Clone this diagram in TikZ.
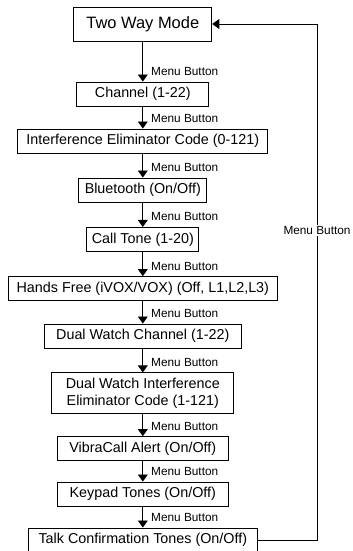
\documentclass[tikz,border=0pt]{standalone}
\usepackage{fontspec}
\setmainfont{Liberation Sans}
\usetikzlibrary{arrows.meta}

\begin{document}
\begin{tikzpicture}[
    menubox/.style={draw, line width=0.6pt, minimum height=0.6cm, inner sep=0pt, align=center, font=\fontsize{10.2}{12.4}\selectfont},
    flow/.style={-{Triangle[length=5pt,width=7pt]}, line width=0.6pt},
    btnlabel/.style={font=\fontsize{8.4}{10}\selectfont, inner sep=0pt, anchor=base west, xshift=0.2cm, yshift=0.15cm}
]
    \useasboundingbox (0,0) rectangle (8.8,13.775);

    % Menu boxes, top to bottom
    \node[menubox, minimum width=3.45cm, minimum height=0.85cm, font=\fontsize{11.7}{14}\selectfont] (twoway) at (3.57,13.175) {Two Way Mode};
    \node[menubox, minimum width=3.3cm] (channel) at (3.57,11.425) {Channel (1-22)};
    \node[menubox, minimum width=6.25cm] (iecode) at (3.57,10.25) {Interference Eliminator Code (0-121)};
    \node[menubox, minimum width=3.2cm] (bluetooth) at (3.57,9.025) {Bluetooth (On/Off)};
    \node[menubox, minimum width=2.8cm] (calltone) at (3.57,7.79) {Call Tone (1-20)};
    \node[menubox, minimum width=6.725cm] (handsfree) at (3.57,6.56) {Hands Free (iVOX/VOX) (Off, L1,L2,L3)};
    \node[menubox, minimum width=4.925cm] (dwchannel) at (3.57,5.375) {Dual Watch Channel (1-22)};
    \node[menubox, minimum width=4.55cm, minimum height=1.025cm] (dwcode) at (3.57,3.94) {Dual Watch Interference\\Eliminator Code (1-121)};
    \node[menubox, minimum width=4.275cm] (vibra) at (3.57,2.56) {VibraCall Alert (On/Off)};
    \node[menubox, minimum width=4.275cm] (keypad) at (3.57,1.425) {Keypad Tones (On/Off)};
    \node[menubox, minimum width=5.725cm] (talkconf) at (3.57,0.275) {Talk Confirmation Tones (On/Off)};

    % Menu Button steps
    \draw[flow] (twoway.south) -- (channel.north) node[btnlabel] {Menu Button};
    \draw[flow] (channel.south) -- (iecode.north) node[btnlabel] {Menu Button};
    \draw[flow] (iecode.south) -- (bluetooth.north) node[btnlabel] {Menu Button};
    \draw[flow] (bluetooth.south) -- (calltone.north) node[btnlabel] {Menu Button};
    \draw[flow] (calltone.south) -- (handsfree.north) node[btnlabel] {Menu Button};
    \draw[flow] (handsfree.south) -- (dwchannel.north) node[btnlabel] {Menu Button};
    \draw[flow] (dwchannel.south) -- (dwcode.north) node[btnlabel] {Menu Button};
    \draw[flow] (dwcode.south) -- (vibra.north) node[btnlabel] {Menu Button};
    \draw[flow] (vibra.south) -- (keypad.north) node[btnlabel] {Menu Button};
    \draw[flow] (keypad.south) -- (talkconf.north) node[btnlabel] {Menu Button};

    % Back to the start
    \coordinate (back) at (7.925,0);
    \draw[flow] (talkconf.east) -- (talkconf.east -| back) |- node[pos=0.3, fill=white, inner sep=1pt, font=\fontsize{8.4}{10}\selectfont] {Menu Button} (twoway.east);
\end{tikzpicture}
\end{document}
